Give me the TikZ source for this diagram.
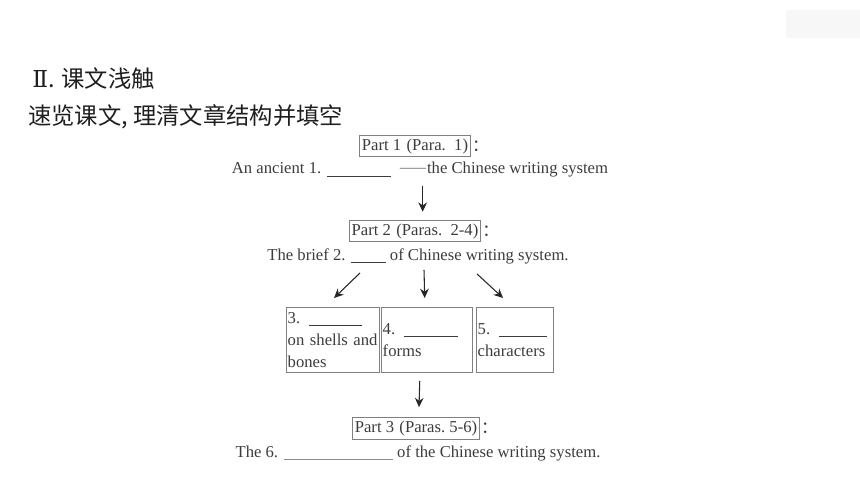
\documentclass[tikz,border=0pt]{standalone}
\usepackage{fontspec}
\setmainfont{Liberation Serif}
\newfontfamily\cjk{Noto Sans CJK SC}
\newfontfamily\numfont{DejaVu Serif}
\usetikzlibrary{arrows.meta,positioning}
\definecolor{inkgray}{HTML}{3C3C3C}
\definecolor{framegray}{HTML}{808080}
\newcommand{\blank}[1]{\underline{\hspace{#1}}}
\newcommand{\fw}[1]{{\cjk #1}}

\begin{document}
\begin{tikzpicture}[x=0.75pt,y=-0.75pt]
    \tikzstyle{heading}=[anchor=west,inner sep=0pt,text=black!88,font=\cjk\fontsize{17.5}{19}\selectfont]
    \tikzstyle{part}=[draw=framegray,line width=0.6pt,inner xsep=1.5pt,inner ysep=2.5pt,text=inkgray,font=\fontsize{12.5}{14}\selectfont]
    \tikzstyle{line}=[inner sep=0pt,text=inkgray,font=\fontsize{12.5}{14}\selectfont]
    \tikzstyle{point}=[draw=framegray,line width=0.6pt,anchor=north west,align=left,inner xsep=1pt,inner ysep=0pt,minimum height=48.75pt,text=inkgray,font=\fontsize{12.5}{16.5}\selectfont]
    \tikzstyle{flow}=[-{Stealth[length=7pt,width=6.5pt]},line width=0.8pt,black!85]
    \useasboundingbox (0,0) rectangle (860,484);
    \fill[black!3] (786,10) rectangle (860,38);

    \node[heading] (title) at (32,79) {{\numfont Ⅱ}. 课文浅触};
    \node[heading] (task) at (28,117) {速览课文, 理清文章结构并填空};

    % part 1
    \node[part] (part-1) at (415,146) {Part 1\hspace{4pt}(Para.\enspace 1)};
    \node[line,right=1pt of part-1] (colon-1) {\fw{：}};
    \node[line] (ancient) at (420,170) {An ancient 1. \blank{48pt}\ \ {\color{black!45}\fw{——}}the Chinese writing system};

    % part 2
    \node[part] (part-2) at (415,231) {Part 2\hspace{4pt}(Paras.\enspace 2-4)};
    \node[line,right=1pt of part-2] (colon-2) {\fw{：}};
    \node[line] (brief) at (418,256) {The brief 2. \blank{26pt}\ of Chinese writing system.};

    \node[point,text width=68pt] (box-3) at (286,307) {3. \blank{40pt}\\on shells and\\bones};
    \node[point,text width=66pt] (box-4) at (381,307) {4. \blank{41pt}\\forms};
    \node[point,text width=56pt] (box-5) at (476,307) {5. \blank{36pt}\\characters};

    % part 3
    \node[part] (part-3) at (416,428.5) {Part 3\hspace{4pt}(Paras.\ 5-6)};
    \node[line,right=1pt of part-3] (colon-3) {\fw{：}};
    \node[line] (future) at (418,453) {The 6. {\color{black!45}\blank{82pt}}\ of the Chinese writing system.};

    \draw[flow] ([xshift=2pt,yshift=-6pt]ancient.south) -- ([xshift=2pt,yshift=6pt]ancient.south |- part-2.north);
    \foreach \num/\sx/\sy/\ex in {3/-58/9/1, 4/6/6/-2, 5/59/10/-12}
        \draw[flow] ([shift={(\sx,\sy)}]brief.south) -- ([shift={(\ex,-9)}]box-\num.north);
    \draw[flow] ([shift={(-7,8)}]box-4.south) -- ([shift={(3,-10)}]part-3.north);
\end{tikzpicture}
\end{document}
